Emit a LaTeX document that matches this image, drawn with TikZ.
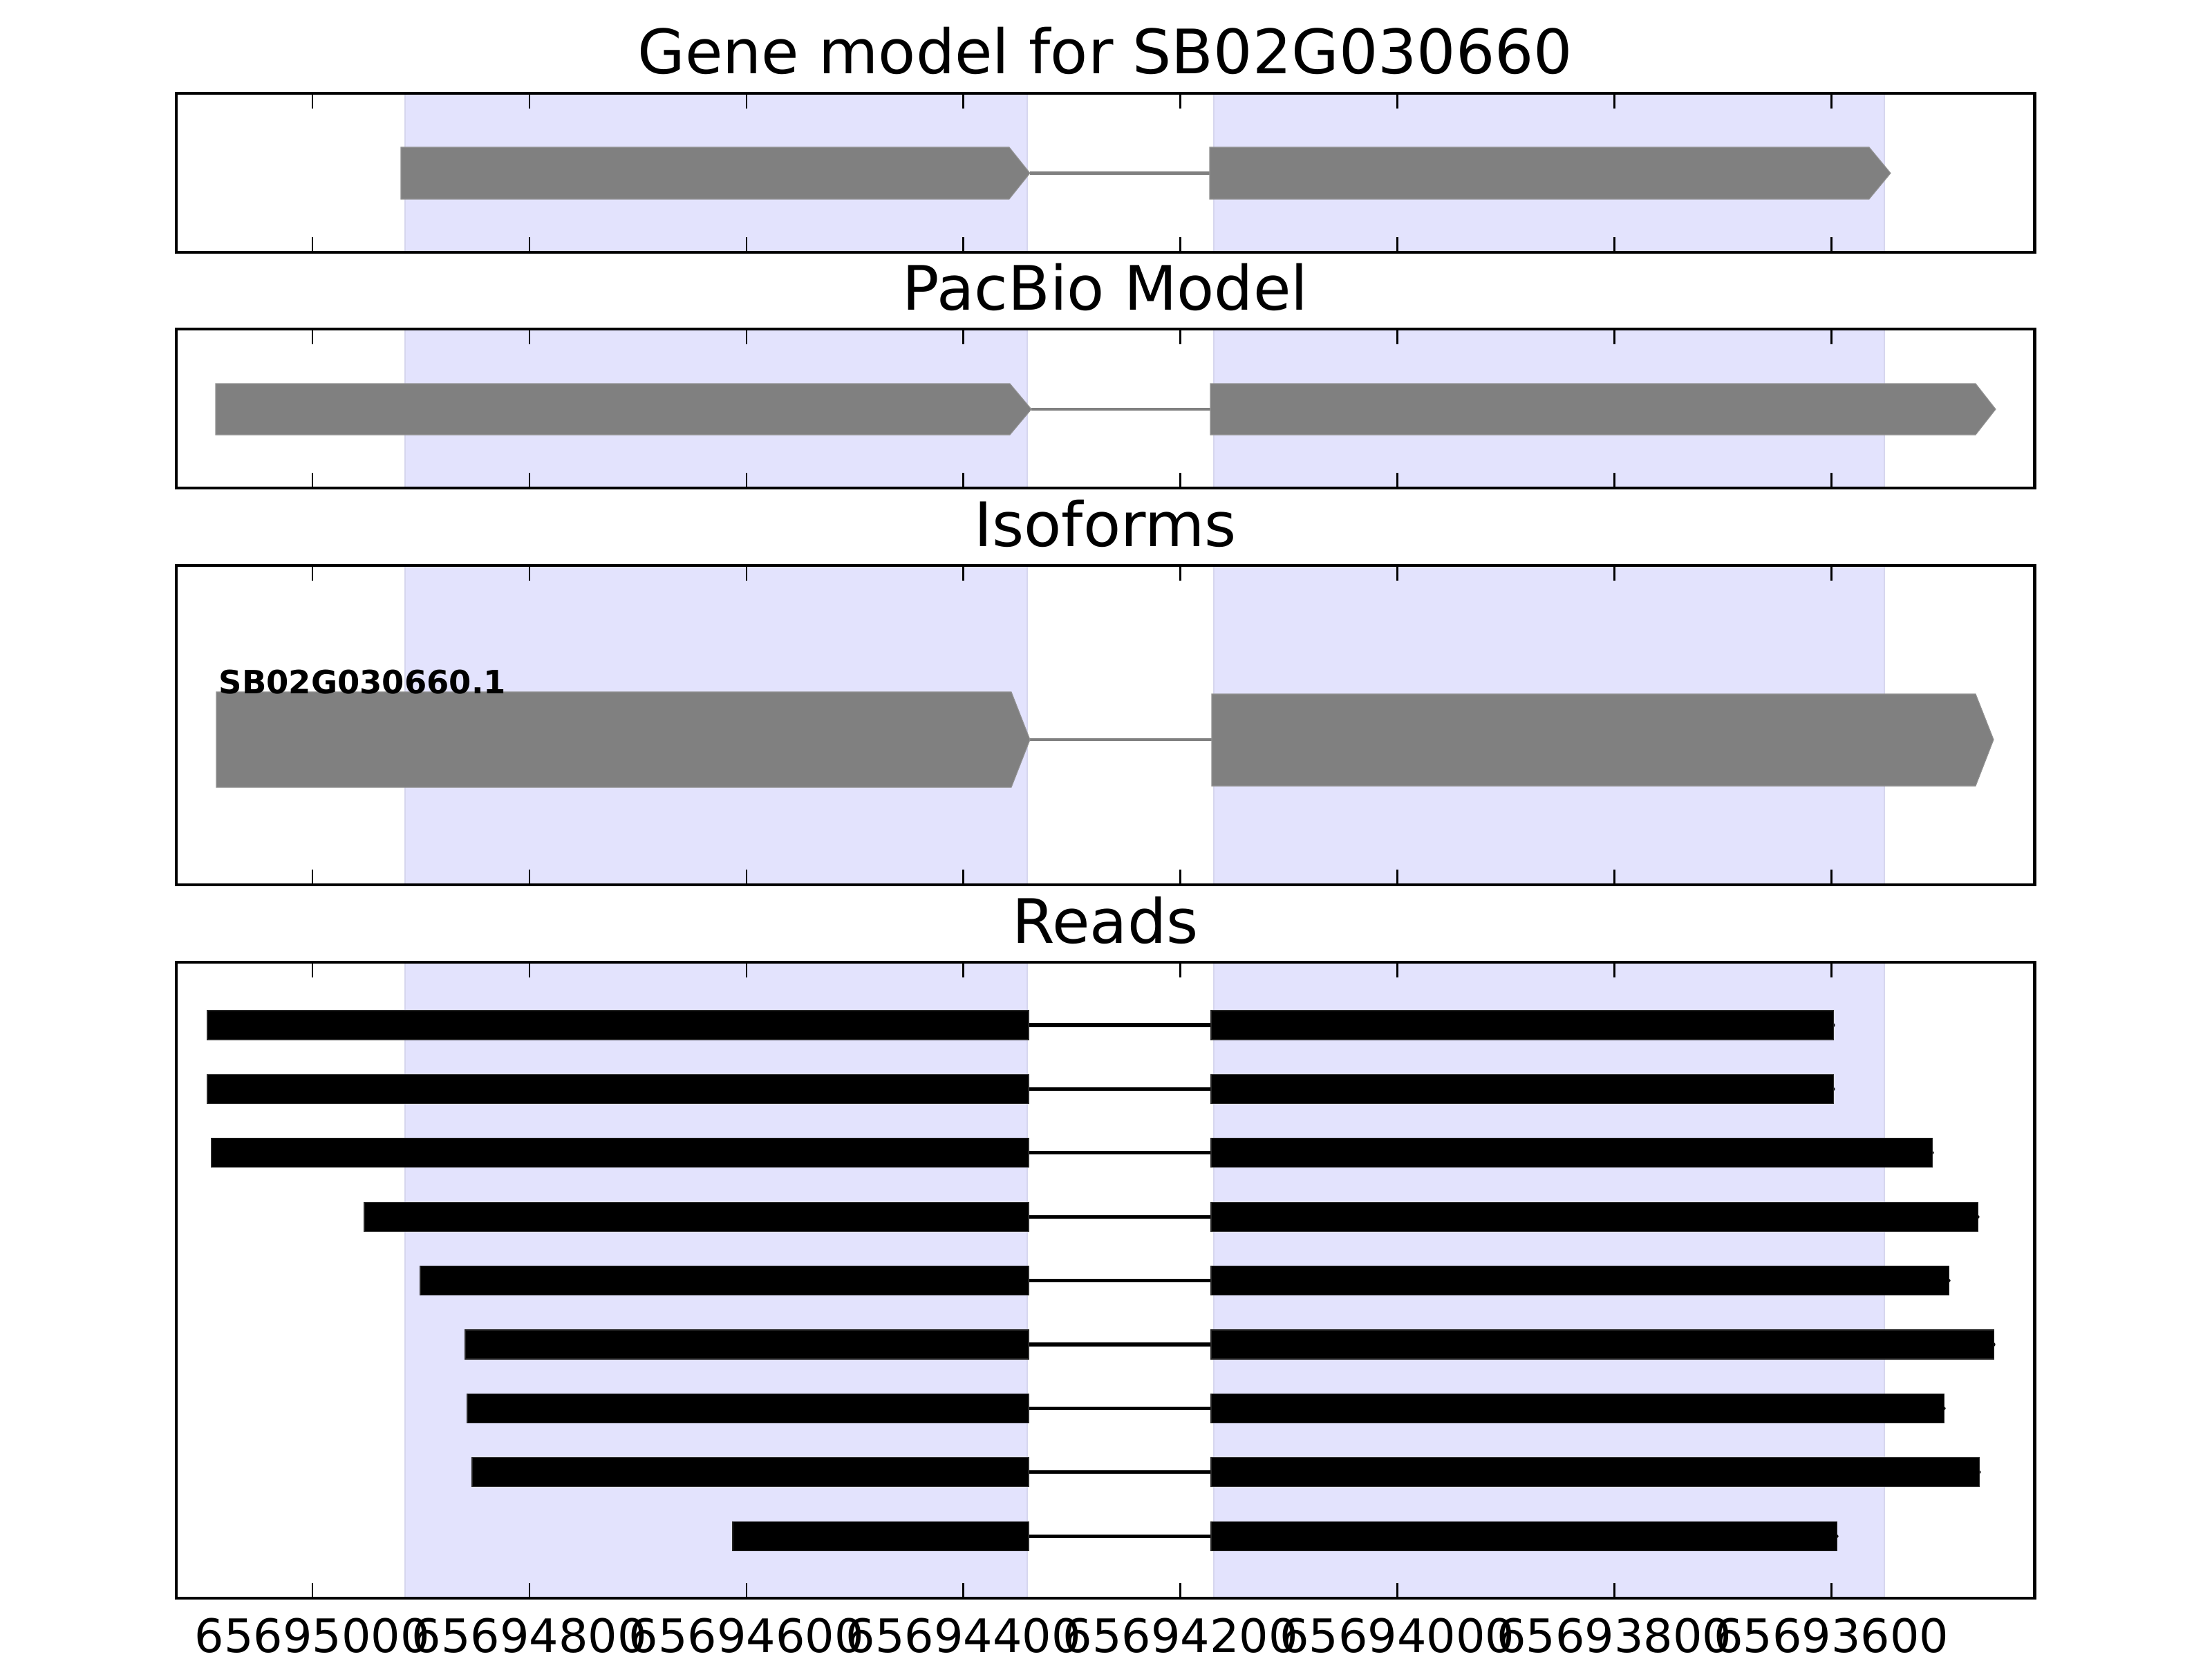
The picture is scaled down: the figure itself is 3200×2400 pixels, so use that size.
\documentclass[tikz,border=0pt]{standalone}
\usepackage{fontspec}
\setmainfont{DejaVu Sans}
\definecolor{spanfill}{RGB}{227,227,253}
\definecolor{spanline}{RGB}{214,214,238}
\definecolor{genegray}{RGB}{128,128,128}
\tikzset{
  frame/.style={draw=black, line width=1.4pt},
  tickmark/.style={draw=black, line width=0.7pt},
  paneltitle/.style={anchor=base, font=\fontsize{25.2}{30}\selectfont, inner sep=0pt},
  ticklab/.style={anchor=base, font=\fontsize{19}{23}\selectfont, inner sep=0pt},
  isolab/.style={anchor=base west, font=\bfseries\fontsize{13.2}{16}\selectfont, inner sep=0pt},
  exon/.style={fill=genegray, draw=genegray!85!white, line width=0.3pt},
  intron/.style={draw=genegray, line width=1.4pt},
  readbar/.style={fill=black, draw=black!85!white, line width=0.3pt},
  readline/.style={draw=black, line width=1.5pt, line cap=round},
  spanarea/.style={fill=spanfill},
  spanedge/.style={draw=spanline, line width=0.6pt},
}
\begin{document}
\begin{tikzpicture}[x=0.01cm,y=-0.01cm]
\useasboundingbox (0,0) rectangle (3200,2400);
\fill[white] (0,0) rectangle (3200,2400);

% shaded exon spans in every panel
\foreach \t/\b in {135/365,476/706,818/1280,1392/2312}{
  \path[spanarea] (586,\t) rectangle (1486,\b);
  \path[spanarea] (1756,\t) rectangle (2726,\b);
  \draw[spanedge] (586,\t) -- (586,\b);
  \draw[spanedge] (1486,\t) -- (1486,\b);
  \draw[spanedge] (1756,\t) -- (1756,\b);
  \draw[spanedge] (2726,\t) -- (2726,\b);
}

% Gene model
\draw[intron] (1490,250.5) -- (1750,250.5);
\path[exon] (580,213) -- (1460,213) -- (1490,250.5) -- (1460,288) -- (580,288) -- cycle;
\path[exon] (1750,213) -- (2704,213) -- (2735,250.5) -- (2704,288) -- (1750,288) -- cycle;

% PacBio model
\draw[intron] (1492,592) -- (1751,592);
\path[exon] (312,555) -- (1461,555) -- (1492,592) -- (1461,629) -- (312,629) -- cycle;
\path[exon] (1751,555) -- (2858,555) -- (2887,592) -- (2858,629) -- (1751,629) -- cycle;

% Isoforms
\draw[intron] (1490,1070) -- (1753,1070);
\path[exon] (313,1001) -- (1463,1001) -- (1490,1070) -- (1463,1139) -- (313,1139) -- cycle;
\path[exon] (1753,1004) -- (2858,1004) -- (2884,1070) -- (2858,1137) -- (1753,1137) -- cycle;
\node[isolab] (iso1) at (316,1003) {SB02G030660.1};

% Reads
\foreach \i/\l/\r in {0/300/2652,1/300/2652,2/306/2795,3/527/2861,4/608/2819,5/673/2884,6/676/2812,7/683/2863,8/1060/2657}{
  \pgfmathsetmacro\yc{1483+92.4*\i}
  \draw[readline] (1486,\yc) -- (\r,\yc);
  \path[readbar] (\l,{\yc-21}) rectangle (1488,{\yc+21});
  \path[readbar] (1752,{\yc-21}) rectangle (\r,{\yc+21});
}

% frames and ticks
\foreach \t/\b in {135/365,476/706,818/1280,1392/2312}{
  \foreach \k in {0,...,7}{
    \pgfmathsetmacro\xx{452+313.9*\k}
    \draw[tickmark] (\xx,\t) -- ++(0,22);
    \draw[tickmark] (\xx,\b) -- ++(0,-22);
  }
  \draw[frame] (255,\t) rectangle (2943,\b);
}

% titles
\node[paneltitle] (title1) at (1599,107) {Gene model for SB02G030660};
\node[paneltitle] (title2) at (1599,448) {PacBio Model};
\node[paneltitle] (title3) at (1599,790) {Isoforms};
\node[paneltitle] (title4) at (1599,1364) {Reads};

% tick labels
\foreach \k/\lab in {0/65695000,1/65694800,2/65694600,3/65694400,4/65694200,5/65694000,6/65693800,7/65693600}{
  \node[ticklab] (tl\k) at ({452+313.9*\k},2390) {\lab};
}
\end{tikzpicture}
\end{document}
